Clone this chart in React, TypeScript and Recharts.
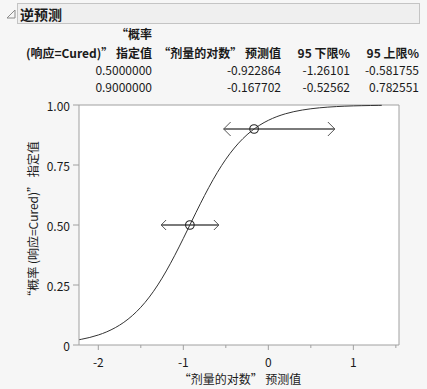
import React from 'react';
import { ComposedChart, Line, Scatter, XAxis, YAxis, ReferenceLine, CartesianGrid } from 'recharts';

// curve
const curveX = [-2.23, -2.2, -2.1, -2.0, -1.9, -1.8, -1.7, -1.6, -1.5, -1.4, -1.3, -1.2, -1.1, -1.0, -0.9, -0.8, -0.7, -0.6, -0.5, -0.4, -0.3, -0.2, -0.1, 0.0, 0.1, 0.2, 0.3, 0.4, 0.5, 0.6, 0.7, 0.8, 0.9, 1.0, 1.1, 1.2, 1.3, 1.334];
const curveP = [0.0218, 0.0237, 0.0315, 0.0417, 0.055, 0.0723, 0.0944, 0.1224, 0.1572, 0.1997, 0.2502, 0.3086, 0.374, 0.4441, 0.5166, 0.5884, 0.6566, 0.719, 0.7739, 0.8207, 0.8596, 0.8912, 0.9164, 0.9361, 0.9515, 0.9633, 0.9723, 0.9791, 0.9843, 0.9882, 0.9912, 0.9934, 0.9951, 0.9963, 0.9972, 0.9979, 0.9985, 0.9986];

// inverse prediction table
const targetProb = [0.5, 0.9];
const targetLabels = ['0.5000000', '0.9000000'];
const predicted = [-0.922864, -0.167702];
const predictedLabels = ['-0.922864', '-0.167702'];
const lower95 = [-1.26101, -0.52562];
const lowerLabels = ['-1.26101', '-0.52562'];
const upper95 = [-0.581755, 0.782551];
const upperLabels = ['-0.581755', '0.782551'];

const xTicks = [-2, -1.5, -1, -0.5, 0, 0.5, 1, 1.5];
const xMajor = [-2, -1, 0, 1];
const yTicks = [0, 0.25, 0.5, 0.75, 1];
const yTickLabels = ['0', '0.25', '0.50', '0.75', '1.00'];

const X_MIN = -2.227;
const X_MAX = 1.537;

const curveData = curveX.map((x, i) => ({ x, y: curveP[i] }));
const pointData = predicted.map((x, i) => ({ x, y: targetProb[i] }));
const intervalData = targetProb.map((p, i) => [
  { x: lower95[i], y: p },
  { x: upper95[i], y: p },
]);

const arrowSize = [5, 7];

const FONT = "'Segoe UI', 'Noto Sans CJK SC', 'Noto Sans', sans-serif";
const AXIS = '#a0a0a0';
const TEXT = '#1a1a1a';

const XTick = (props: any) => {
  const { x, y, payload } = props;
  const major = xMajor.includes(payload.value);
  return (
    <g>
      <line x1={x} x2={x} y1={y} y2={y + (major ? 5 : 3)} stroke={AXIS} />
      {major && (
        <text x={x} y={y + 16} textAnchor="middle" dominantBaseline="central" fontSize={12} fontFamily={FONT} fill={TEXT}>
          {String(payload.value)}
        </text>
      )}
    </g>
  );
};

const YTick = (props: any) => {
  const { x, y, payload } = props;
  const idx = yTicks.indexOf(payload.value);
  return (
    <g>
      <line x1={x - 6} x2={x} y1={y} y2={y} stroke={AXIS} />
      <text x={x - 9} y={y} textAnchor="end" dominantBaseline="central" fontSize={12} fontFamily={FONT} fill={TEXT}>
        {yTickLabels[idx]}
      </text>
    </g>
  );
};

const makeArrowDot = (row: number) => (props: any) => {
  const { cx, cy, index } = props;
  const s = arrowSize[row];
  const d = index === 0
    ? `M${cx + s},${cy - s} L${cx},${cy} L${cx + s},${cy + s}`
    : `M${cx - s},${cy - s} L${cx},${cy} L${cx - s},${cy + s}`;
  return <path key={`a${row}-${index}`} d={d} stroke="#555" strokeWidth={1} fill="none" />;
};

const CircleShape = (props: any) => {
  const { cx, cy } = props;
  return <circle cx={cx} cy={cy} r={4.3} fill="none" stroke="#222" strokeWidth={1.1} />;
};

export default function App() {
  const headBold = { fontSize: 12, fontWeight: 700 as const, fontFamily: FONT, fill: TEXT };
  const cell = { fontSize: 12, fontFamily: FONT, fill: TEXT };
  const colRight = [152, 281, 350, 419];
  const rowY = [69.5, 86.5];
  return (
    <div style={{ position: 'absolute', left: 0, top: 0, width: 427, height: 389, background: '#f6f6f6', overflow: 'hidden' }}>
      <div style={{ position: 'absolute', left: 0, top: 0 }}>
        <ComposedChart width={427} height={389} margin={{ top: 105, right: 28, left: 0, bottom: 0 }}>
          <CartesianGrid fill="#ffffff" horizontal={false} vertical={false} stroke="none" />
          <XAxis
            type="number"
            dataKey="x"
            domain={[X_MIN, X_MAX]}
            ticks={xTicks}
            interval={0}
            allowDataOverflow
            height={44}
            tickSize={0}
            tickMargin={0}
            tickLine={false}
            axisLine={{ stroke: AXIS }}
            tick={<XTick />}
          />
          <YAxis
            type="number"
            dataKey="y"
            domain={[0, 1]}
            ticks={yTicks}
            interval={0}
            width={79}
            tickSize={0}
            tickMargin={0}
            tickLine={false}
            axisLine={{ stroke: AXIS }}
            tick={<YTick />}
          />
          <ReferenceLine y={1} stroke={AXIS} ifOverflow="visible" />
          <ReferenceLine x={X_MAX} stroke={AXIS} ifOverflow="visible" />
          {intervalData.map((d, i) => (
            <Line
              key={`iv${i}`}
              data={d}
              dataKey="y"
              type="linear"
              stroke="#7a7a7a"
              strokeWidth={2}
              dot={makeArrowDot(i)}
              activeDot={false}
              isAnimationActive={false}
            />
          ))}
          <Line data={curveData} dataKey="y" type="monotone" stroke="#333" strokeWidth={1} dot={false} activeDot={false} isAnimationActive={false} />
          <Scatter data={pointData} dataKey="y" shape={<CircleShape />} isAnimationActive={false} />
        </ComposedChart>
      </div>
      <svg width={427} height={389} style={{ position: 'absolute', left: 0, top: 0, pointerEvents: 'none' }}>
        {/* header */}
        <rect x={17.5} y={3.5} width={402} height={20} fill="#efefef" stroke="#c4c4c4" />
        <path d="M15,10 L15,18 L7,18 Z" fill="none" stroke="#8a8a8a" />
        <text x={20} y={14} dominantBaseline="central" fontSize={14} fontWeight={700} fontFamily={FONT} fill={TEXT}>逆预测</text>
        {/* table header */}
        <text x={colRight[0]} y={33} textAnchor="end" dominantBaseline="central" {...headBold}>“概率</text>
        <text x={colRight[0]} y={52.5} textAnchor="end" dominantBaseline="central" {...headBold}>(响应=Cured)” 指定值</text>
        <text x={colRight[1]} y={52.5} textAnchor="end" dominantBaseline="central" {...headBold}>“剂量的对数” 预测值</text>
        <text x={colRight[2]} y={52.5} textAnchor="end" dominantBaseline="central" {...headBold}>95 下限%</text>
        <text x={colRight[3]} y={52.5} textAnchor="end" dominantBaseline="central" {...headBold}>95 上限%</text>
        {targetLabels.map((t, i) => (
          <g key={`r${i}`}>
            <text x={colRight[0]} y={rowY[i]} textAnchor="end" dominantBaseline="central" {...cell}>{t}</text>
            <text x={colRight[1]} y={rowY[i]} textAnchor="end" dominantBaseline="central" {...cell}>{predictedLabels[i]}</text>
            <text x={colRight[2]} y={rowY[i]} textAnchor="end" dominantBaseline="central" {...cell}>{lowerLabels[i]}</text>
            <text x={colRight[3]} y={rowY[i]} textAnchor="end" dominantBaseline="central" {...cell}>{upperLabels[i]}</text>
          </g>
        ))}
        {/* axis titles */}
        <text x={240} y={378} textAnchor="middle" dominantBaseline="central" fontSize={12} fontFamily={FONT} fill={TEXT}>“剂量的对数” 预测值</text>
        <text x={32} y={222} textAnchor="middle" dominantBaseline="central" fontSize={12} fontFamily={FONT} fill={TEXT} transform="rotate(-90 32 222)">“概率 (响应=Cured)” 指定值</text>
      </svg>
    </div>
  );
}
